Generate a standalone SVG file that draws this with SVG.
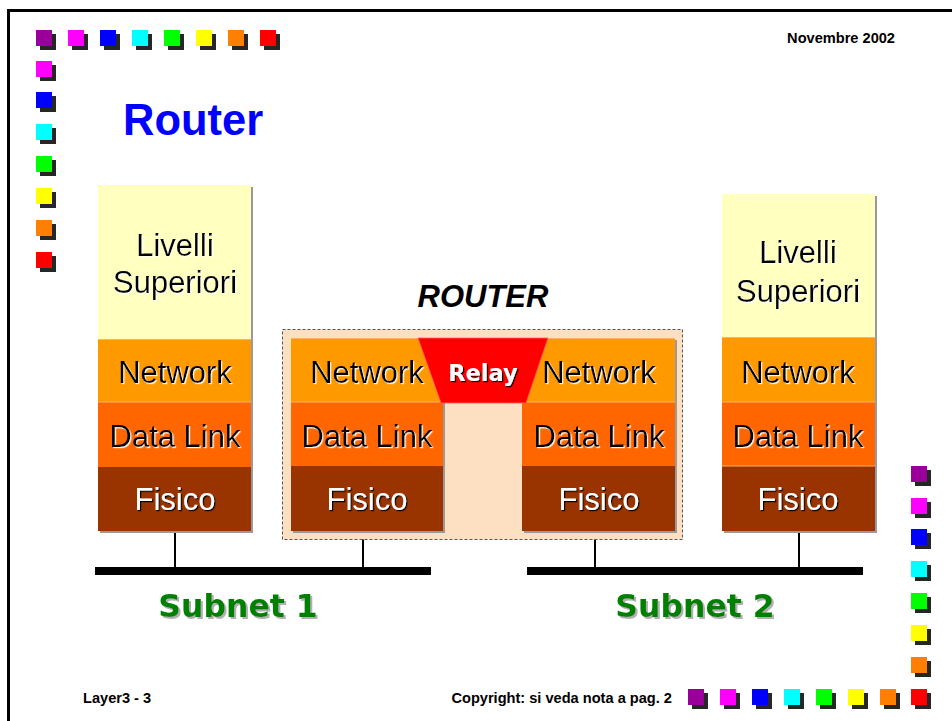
<svg xmlns="http://www.w3.org/2000/svg" width="952" height="721" viewBox="0 0 952 721">
<style>
.sq{stroke:none}
.sh{fill:#262626}
.lbl{font-family:"Liberation Sans",Arial,sans-serif;font-size:31px;text-anchor:middle}
.dk{fill:#000;filter:url(#wsh)}
.lt{fill:#fff;filter:url(#bsh)}
.sup{fill:#FFFFC0}
.net{fill:#FF9900}
.dl{fill:#FF6600}
.fis{fill:#993300}
.sep{stroke:#FFB070;stroke-width:1.2}
.stk{fill:#9a9a9a}
.drop{stroke:#000;stroke-width:2;fill:none}
.bus{fill:#000}
.sub{font-family:"Comic Sans MS","DejaVu Sans",sans-serif;font-weight:bold;font-size:31.5px;fill:#008000;text-anchor:middle;filter:url(#gsh)}
.foot{font-family:"Liberation Sans",Arial,sans-serif;font-weight:bold;font-size:14.6px;fill:#000}
</style>
<defs>
<filter id="wsh" x="-10%" y="-10%" width="130%" height="130%"><feDropShadow dx="1.2" dy="1.2" stdDeviation="0" flood-color="#ffffff" flood-opacity="0.9"/></filter>
<filter id="bsh" x="-10%" y="-10%" width="130%" height="130%"><feDropShadow dx="1.2" dy="1.2" stdDeviation="0" flood-color="#000000"/></filter>
<filter id="gsh" x="-10%" y="-10%" width="130%" height="130%"><feDropShadow dx="2" dy="2" stdDeviation="0.6" flood-color="#b0b0b0"/></filter>
<g id="sqset">
<rect class="sh" x="4" y="4" width="16" height="16"/>
</g>
</defs>
<rect width="952" height="721" fill="#fff"/>
<path d="M8.5 721 V10.5 H952" fill="none" stroke="#000" stroke-width="3"/>

<g id="decor">
<g transform="translate(36,30)"><use href="#sqset"/><rect class="sq" width="16" height="16" fill="#990099"/></g>
<g transform="translate(68,30)"><use href="#sqset"/><rect class="sq" width="16" height="16" fill="#FF00FF"/></g>
<g transform="translate(100,30)"><use href="#sqset"/><rect class="sq" width="16" height="16" fill="#0000FF"/></g>
<g transform="translate(132,30)"><use href="#sqset"/><rect class="sq" width="16" height="16" fill="#00FFFF"/></g>
<g transform="translate(164,30)"><use href="#sqset"/><rect class="sq" width="16" height="16" fill="#00FF00"/></g>
<g transform="translate(196,30)"><use href="#sqset"/><rect class="sq" width="16" height="16" fill="#FFFF00"/></g>
<g transform="translate(228,30)"><use href="#sqset"/><rect class="sq" width="16" height="16" fill="#FF8000"/></g>
<g transform="translate(260,30)"><use href="#sqset"/><rect class="sq" width="16" height="16" fill="#FF0000"/></g>
<g transform="translate(36,61)"><use href="#sqset"/><rect class="sq" width="16" height="16" fill="#FF00FF"/></g>
<g transform="translate(36,92)"><use href="#sqset"/><rect class="sq" width="16" height="16" fill="#0000FF"/></g>
<g transform="translate(36,124)"><use href="#sqset"/><rect class="sq" width="16" height="16" fill="#00FFFF"/></g>
<g transform="translate(36,156)"><use href="#sqset"/><rect class="sq" width="16" height="16" fill="#00FF00"/></g>
<g transform="translate(36,188)"><use href="#sqset"/><rect class="sq" width="16" height="16" fill="#FFFF00"/></g>
<g transform="translate(36,220)"><use href="#sqset"/><rect class="sq" width="16" height="16" fill="#FF8000"/></g>
<g transform="translate(36,252)"><use href="#sqset"/><rect class="sq" width="16" height="16" fill="#FF0000"/></g>
<g transform="translate(911,466)"><use href="#sqset"/><rect class="sq" width="16" height="16" fill="#990099"/></g>
<g transform="translate(911,498)"><use href="#sqset"/><rect class="sq" width="16" height="16" fill="#FF00FF"/></g>
<g transform="translate(911,529)"><use href="#sqset"/><rect class="sq" width="16" height="16" fill="#0000FF"/></g>
<g transform="translate(911,561)"><use href="#sqset"/><rect class="sq" width="16" height="16" fill="#00FFFF"/></g>
<g transform="translate(911,593)"><use href="#sqset"/><rect class="sq" width="16" height="16" fill="#00FF00"/></g>
<g transform="translate(911,625)"><use href="#sqset"/><rect class="sq" width="16" height="16" fill="#FFFF00"/></g>
<g transform="translate(911,657)"><use href="#sqset"/><rect class="sq" width="16" height="16" fill="#FF8000"/></g>
<g transform="translate(688,689)"><use href="#sqset"/><rect class="sq" width="16" height="16" fill="#990099"/></g>
<g transform="translate(720,689)"><use href="#sqset"/><rect class="sq" width="16" height="16" fill="#FF00FF"/></g>
<g transform="translate(752,689)"><use href="#sqset"/><rect class="sq" width="16" height="16" fill="#0000FF"/></g>
<g transform="translate(784,689)"><use href="#sqset"/><rect class="sq" width="16" height="16" fill="#00FFFF"/></g>
<g transform="translate(816,689)"><use href="#sqset"/><rect class="sq" width="16" height="16" fill="#00FF00"/></g>
<g transform="translate(848,689)"><use href="#sqset"/><rect class="sq" width="16" height="16" fill="#FFFF00"/></g>
<g transform="translate(880,689)"><use href="#sqset"/><rect class="sq" width="16" height="16" fill="#FF8000"/></g>
<g transform="translate(911,689)"><use href="#sqset"/><rect class="sq" width="16" height="16" fill="#FF0000"/></g>
</g>

<text x="123" y="135" font-family="'Liberation Sans',Arial,sans-serif" font-weight="bold" font-size="43.5" fill="#0000FF">Router</text>
<text x="895" y="43" text-anchor="end" class="foot">Novembre 2002</text>
<text x="483" y="307" text-anchor="middle" font-family="'Liberation Sans',Arial,sans-serif" font-weight="bold" font-style="italic" font-size="31" fill="#000">ROUTER</text>

<g id="connectors">
<line class="drop" x1="175" y1="531" x2="175" y2="568"/>
<line class="drop" x1="363" y1="531" x2="363" y2="568"/>
<line class="drop" x1="595" y1="531" x2="595" y2="568"/>
<line class="drop" x1="799" y1="531" x2="799" y2="568"/>
<rect class="bus" x="95" y="567" width="336" height="8"/>
<rect class="bus" x="527" y="567" width="336" height="8"/>
</g>

<g id="host1">
<rect class="stk" x="100" y="187" width="153" height="346"/>
<rect class="sup" x="98" y="185" width="153" height="154"/>
<rect class="net" x="98" y="339" width="153" height="63"/>
<rect class="dl" x="98" y="402" width="153" height="65"/>
<rect class="fis" x="98" y="467" width="153" height="64"/>
<line class="sep" x1="98" y1="339.5" x2="251" y2="339.5"/>
<line class="sep" x1="98" y1="402" x2="251" y2="402"/>
<text class="lbl dk" x="175" y="256">Livelli</text>
<text class="lbl dk" x="175" y="293">Superiori</text>
<text class="lbl dk" x="175" y="383">Network</text>
<text class="lbl dk" x="175" y="447">Data Link</text>
<text class="lbl lt" x="175" y="510">Fisico</text>
</g>

<g id="router">
<rect x="282.5" y="329.5" width="400" height="210" fill="#FDE0C2" stroke="#555" stroke-width="1" stroke-dasharray="3,2"/>
<rect class="stk" x="293" y="340" width="152" height="193"/>
<rect class="stk" x="524" y="340" width="153" height="193"/>
<rect class="net" x="291" y="338" width="152" height="64"/>
<rect class="dl" x="291" y="402" width="152" height="64"/>
<rect class="fis" x="291" y="466" width="152" height="65"/>
<rect class="net" x="522" y="338" width="153" height="64"/>
<rect class="dl" x="522" y="402" width="153" height="64"/>
<rect class="fis" x="522" y="466" width="153" height="65"/>
<line class="sep" x1="291" y1="338.5" x2="443" y2="338.5"/>
<line class="sep" x1="522" y1="338.5" x2="675" y2="338.5"/>
<line class="sep" x1="291" y1="402" x2="443" y2="402"/>
<line class="sep" x1="522" y1="402" x2="675" y2="402"/>
<text class="lbl dk" x="367" y="383">Network</text>
<text class="lbl dk" x="367" y="447">Data Link</text>
<text class="lbl lt" x="367" y="510">Fisico</text>
<text class="lbl dk" x="599" y="383">Network</text>
<text class="lbl dk" x="599" y="447">Data Link</text>
<text class="lbl lt" x="599" y="510">Fisico</text>
<g id="relay">
<polygon points="418,338 548,338 526,403 441,403" fill="#FF0000" stroke="#FF6060" stroke-width="0.8"/>
<text x="483" y="381" text-anchor="middle" font-family="'DejaVu Sans',Verdana,sans-serif" font-weight="bold" font-size="22.5" fill="#fff" filter="url(#bsh)">Relay</text>
</g>
</g>

<g id="host2">
<rect class="stk" x="724" y="196" width="153" height="337"/>
<rect class="sup" x="722" y="194" width="153" height="143"/>
<rect class="net" x="722" y="337" width="153" height="65"/>
<rect class="dl" x="722" y="402" width="153" height="64"/>
<rect class="fis" x="722" y="466" width="153" height="65"/>
<line class="sep" x1="722" y1="337.5" x2="875" y2="337.5"/>
<line class="sep" x1="722" y1="402" x2="875" y2="402"/>
<line class="sep" x1="722" y1="466" x2="875" y2="466"/>
<text class="lbl dk" x="798" y="263">Livelli</text>
<text class="lbl dk" x="798" y="302">Superiori</text>
<text class="lbl dk" x="798" y="383">Network</text>
<text class="lbl dk" x="798" y="447">Data Link</text>
<text class="lbl lt" x="798" y="510">Fisico</text>
</g>

<g id="subnet1"><text class="sub" x="238" y="617">Subnet 1</text></g>
<g id="subnet2"><text class="sub" x="695" y="617">Subnet 2</text></g>

<text x="83" y="703" class="foot">Layer3 - 3</text>
<text x="672" y="703" text-anchor="end" class="foot">Copyright: si veda nota a pag. 2</text>
</svg>
